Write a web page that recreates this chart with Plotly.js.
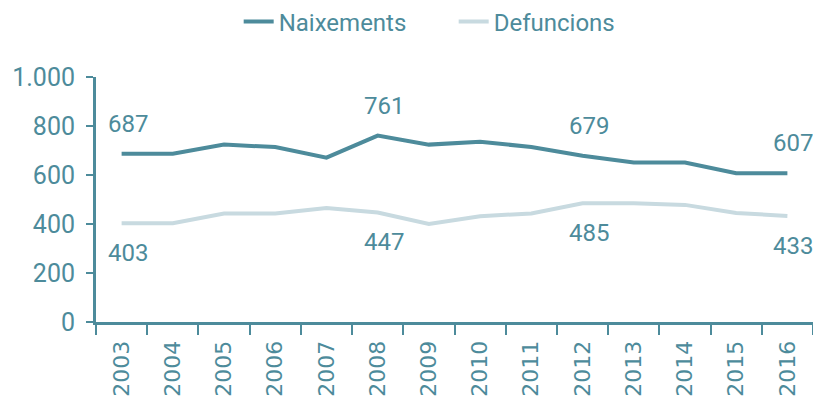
<!DOCTYPE html>
<html>
<head>
<meta charset="utf-8">
<script src="https://cdn.plot.ly/plotly-3.0.1.min.js"></script>
<style>html,body{margin:0;padding:0;background:#fff;}#chart{width:813px;height:400px;}</style>
</head>
<body>
<div id="chart"></div>
<script>
const years = ['2003','2004','2005','2006','2007','2008','2009','2010','2011','2012','2013','2014','2015','2016'];
const naixements = [687, 687, 724, 714, 671, 761, 724, 736, 714, 679, 651, 651, 607, 607];
const defuncions = [403, 403, 443, 443, 465, 447, 400, 432, 443, 485, 485, 478, 445, 433];
const labelIdx = [0, 5, 9, 13];
const tickVals = [0, 200, 400, 600, 800, 1000];
const tickText = ['0', '200', '400', '600', '800', '1.000'];

const teal = '#4d8b9b';
const light = '#c8dae0';
const font = 'Roboto, sans-serif';

const traces = [
  {x: years, y: naixements, name: 'Naixements', type: 'scatter', mode: 'lines',
   line: {color: teal, width: 4}, hoverinfo: 'skip'},
  {x: years, y: defuncions, name: 'Defuncions', type: 'scatter', mode: 'lines',
   line: {color: light, width: 4}, hoverinfo: 'skip'}
];

const annotations = [];
labelIdx.forEach(i => {
  annotations.push({x: i, y: naixements[i], xref: 'x', yref: 'y', text: String(naixements[i]), showarrow: false,
    yshift: 30, xshift: 6, font: {family: font, size: 24, color: teal}});
  annotations.push({x: i, y: defuncions[i], xref: 'x', yref: 'y', text: String(defuncions[i]), showarrow: false,
    yshift: -30, xshift: 6, font: {family: font, size: 24, color: teal}});
});

const layout = {
  width: 813, height: 400,
  margin: {l: 96, r: 0, t: 77, b: 78, pad: 0, autoexpand: false},
  paper_bgcolor: '#fff', plot_bgcolor: '#fff',
  showlegend: true,
  legend: {orientation: 'h', x: 0.199, xanchor: 'left', xref: 'paper', y: 0.945, yref: 'container', yanchor: 'middle',
    font: {family: font, size: 24, color: teal}, entrywidth: 170, entrywidthmode: 'pixels'},
  xaxis: {type: 'category', autorange: false, range: [-0.5, 13.5], showgrid: false, zeroline: false, showline: true, linecolor: teal, linewidth: 3,
    ticks: 'outside', tickson: 'boundaries', ticklen: 10, tickwidth: 2, tickcolor: teal, ticklabelstandoff: 7,
    tickangle: -90, tickfont: {family: 'DejaVu Sans, sans-serif', size: 22, color: teal}, fixedrange: true},
  yaxis: {range: [0, 1000], showgrid: false, zeroline: false, showline: true, linecolor: teal, linewidth: 3,
    ticks: 'outside', ticklen: 7, tickwidth: 2, tickcolor: teal, ticklabelstandoff: 6,
    tickvals: tickVals, ticktext: tickText, tickfont: {family: font, size: 25, color: teal}, fixedrange: true},
  annotations: annotations
};

Plotly.newPlot('chart', traces, layout, {staticPlot: true, displayModeBar: false});
</script>
</body>
</html>
